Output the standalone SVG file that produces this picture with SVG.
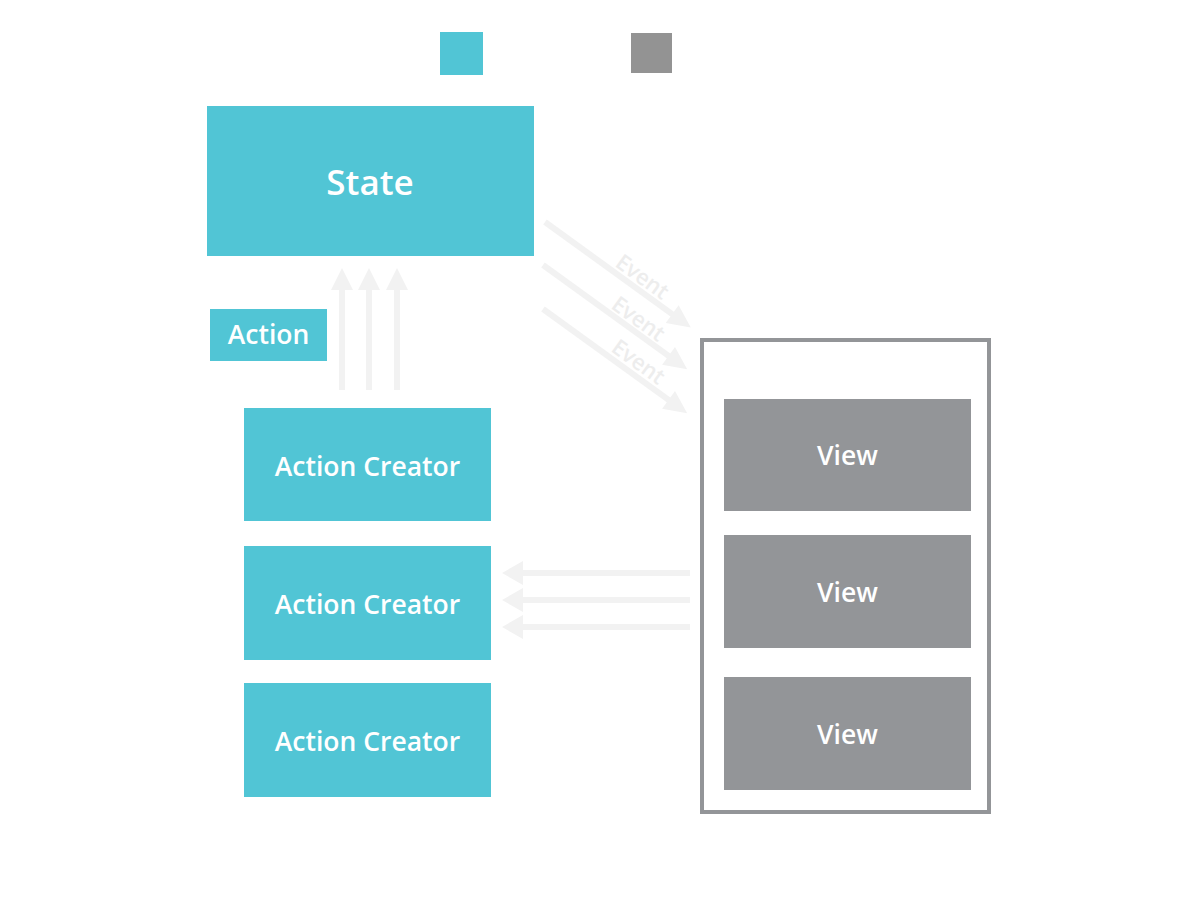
<svg xmlns="http://www.w3.org/2000/svg" width="1200" height="900" viewBox="0 0 1200 900">
<style>
.cy{fill:#51C5D5}
.gr{fill:#939598}
.t{font-family:"Open Sans","Liberation Sans",sans-serif;font-weight:600;fill:#fff;text-anchor:middle}
.ln{stroke:#F2F2F2;stroke-width:6;fill:none}
.hd{fill:#F2F2F2}
.ev{font-family:"Open Sans","Liberation Sans",sans-serif;font-weight:600;fill:#EDEDED;font-size:22px;text-anchor:middle}
</style>
<rect width="1200" height="900" fill="#fff"/>
<g id="legend">
<rect x="440" y="32" width="43" height="43" class="cy"/>
<rect x="631" y="33" width="41" height="40" fill="#939393"/>
</g>
<g id="connectors">
<line x1="342" y1="390" x2="342" y2="288" class="ln"/>
<polygon points="331,290 342,268 353,290" class="hd"/>
<line x1="369" y1="390" x2="369" y2="288" class="ln"/>
<polygon points="358,290 369,268 380,290" class="hd"/>
<line x1="397" y1="390" x2="397" y2="288" class="ln"/>
<polygon points="386,290 397,268 408,290" class="hd"/>
<g transform="translate(545,222) rotate(35.9)">
<line x1="0" y1="0" x2="160" y2="0" class="ln"/>
<polygon points="157,-11 180,0 157,11" class="hd"/>
</g>
<g transform="translate(543,265) rotate(35.9)">
<line x1="0" y1="0" x2="158" y2="0" class="ln"/>
<polygon points="155,-11 178,0 155,11" class="hd"/>
</g>
<g transform="translate(543,309) rotate(35.9)">
<line x1="0" y1="0" x2="158" y2="0" class="ln"/>
<polygon points="155,-11 178,0 155,11" class="hd"/>
</g>
<text class="ev" transform="translate(638,283) rotate(35.9)">Event</text>
<text class="ev" transform="translate(634,325) rotate(35.9)">Event</text>
<text class="ev" transform="translate(634,368) rotate(35.9)">Event</text>
<line x1="690" y1="573" x2="520" y2="573" class="ln"/>
<polygon points="523,561 502,573 523,585" class="hd"/>
<line x1="690" y1="600" x2="520" y2="600" class="ln"/>
<polygon points="523,588 502,600 523,612" class="hd"/>
<line x1="690" y1="627" x2="520" y2="627" class="ln"/>
<polygon points="523,615 502,627 523,639" class="hd"/>
</g>
<g id="state">
<rect x="207" y="106" width="327" height="150" class="cy"/>
<text x="370" y="195" class="t" font-size="35">State</text>
</g>
<g id="action">
<rect x="210" y="309" width="117" height="52" class="cy"/>
<text x="268.500" y="344" class="t" font-size="26.500">Action</text>
</g>
<g id="ac1">
<rect x="244" y="408" width="247" height="113" class="cy"/>
<text x="367.500" y="476" class="t" font-size="26.500">Action Creator</text>
</g>
<g id="ac2">
<rect x="244" y="546" width="247" height="114" class="cy"/>
<text x="367.500" y="614" class="t" font-size="26.500">Action Creator</text>
</g>
<g id="ac3">
<rect x="244" y="683" width="247" height="114" class="cy"/>
<text x="367.500" y="751" class="t" font-size="26.500">Action Creator</text>
</g>
<g id="views">
<rect x="702" y="340" width="287" height="472" fill="none" stroke="#939598" stroke-width="4"/>
</g>
<g id="view1">
<rect x="724" y="399" width="247" height="112" class="gr"/>
<text x="847.500" y="465" class="t" font-size="26.500">View</text>
</g>
<g id="view2">
<rect x="724" y="535" width="247" height="113" class="gr"/>
<text x="847.500" y="602" class="t" font-size="26.500">View</text>
</g>
<g id="view3">
<rect x="724" y="677" width="247" height="113" class="gr"/>
<text x="847.500" y="744" class="t" font-size="26.500">View</text>
</g>
</svg>
